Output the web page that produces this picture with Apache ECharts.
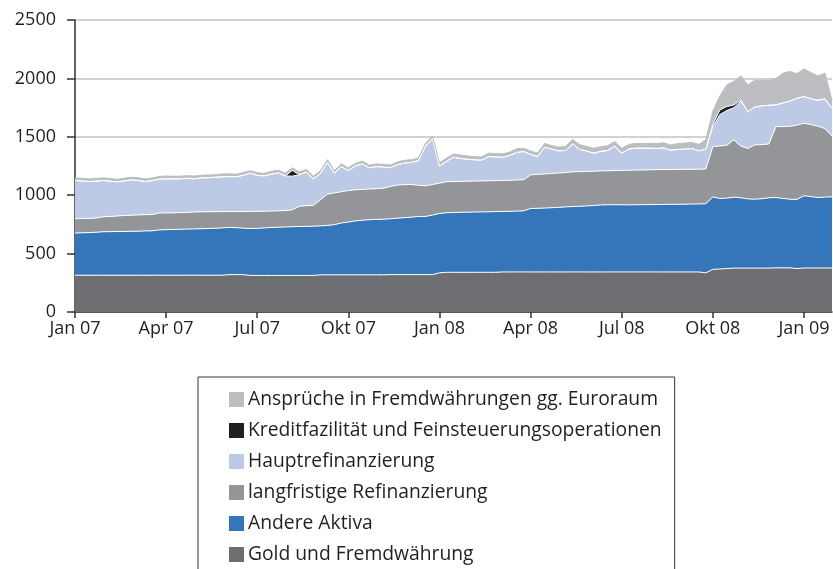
<!DOCTYPE html>
<html>
<head>
<meta charset="utf-8">
<script src="https://cdn.jsdelivr.net/npm/echarts@6/dist/echarts.min.js"></script>
<style>
  html, body { margin: 0; padding: 0; background: #fff; }
  #chart { width: 833px; height: 569px; }
</style>
</head>
<body>
<div id="chart"></div>
<script>
// weekly statements, first one 5 Jan 2007
var weeks = [];
var d0 = new Date(2007, 0, 5);
for (var w = 0; w < 109; w++) {
    var d = new Date(d0.getTime() + w * 7 * 86400000);
    weeks.push(d.getFullYear() + '-' + (d.getMonth() + 1) + '-' + d.getDate());
}
var tickLabels = ['Jan 07', 'Apr 07', 'Jul 07', 'Okt 07', 'Jan 08', 'Apr 08', 'Jul 08', 'Okt 08', 'Jan 09'];

var names = [
    'Gold und Fremdwährung',
    'Andere Aktiva',
    'langfristige Refinanzierung',
    'Hauptrefinanzierung',
    'Kreditfazilität und Feinsteuerungsoperationen',
    'Ansprüche in Fremdwährungen gg. Euroraum'
];

var gold = [315,315,315,315,315,315,315,315,315,315, 315,315,315,315,315,315,315,315,315,315,
    315,315,320,320,320,313,313,313,313,313, 313,313,313,313,313,318,318,318,318,318,
    318,318,318,318,318,320,320,320,320,320, 320,320,335,340,340,340,340,340,340,340,
    340,343,343,343,343,343,343,343,343,343, 343,343,343,343,343,343,343,343,343,343,
    343,343,343,343,343,343,343,343,343,343, 335,365,368,372,376,376,376,376,376,376,
    378,378,378,372,377,377,377,377,377];
var andere = [361,363,365,368,372,373,374,375,376,377, 379,380,388,390,392,393,395,396,398,400,
    402,405,404,402,398,402,403,407,411,413, 415,417,419,420,422,419,423,430,444,452,
    462,468,472,475,477,478,483,488,492,498, 498,510,508,510,512,514,515,516,517,518,
    520,518,519,521,523,543,545,547,550,553, 557,560,562,565,569,573,575,575,575,574,
    575,576,577,577,578,579,579,580,581,582, 592,620,604,603,607,602,592,590,594,602,
    602,594,588,592,618,611,603,607,609];
var langfristig = [122,122,122,121,128,130,133,136,138,139, 139,140,144,143,142,143,143,145,145,143,
    142,140,136,138,142,146,146,143,140,140, 140,145,173,177,177,223,267,272,268,270,
    266,264,263,263,265,277,284,282,280,267, 262,262,260,265,265,264,265,265,265,265,
    265,266,266,266,266,288,290,292,293,294, 294,297,297,296,294,292,291,293,294,297,
    297,297,298,299,299,298,299,299,298,298, 298,431,450,453,491,442,432,465,463,461,
    607,615,624,636,621,617,610,586,520];
var haupt = [328,322,315,316,311,302,292,296,302,295, 284,290,291,292,291,289,292,284,290,292,
    295,297,300,298,310,327,308,302,316,326, 297,288,270,288,228,225,272,169,215,171,
    204,218,182,189,180,161,175,185,190,210, 340,393,147,175,208,197,188,182,178,208,
    203,198,212,230,242,176,153,229,209,190, 189,240,190,174,154,167,174,209,148,181,
    188,187,185,181,185,165,171,172,178,157, 169,170,268,297,275,385,315,324,332,331,
    186,203,215,230,229,220,220,255,239];
var kredit = [0,0,0,0,0,0,0,0,0,0, 0,0,0,0,0,0,0,0,0,0,
    0,0,0,0,0,0,0,0,0,0, 0,50,0,0,0,0,0,0,0,0,
    0,0,0,0,0,0,0,0,0,0, 0,0,0,0,0,0,0,0,0,0,
    0,0,0,8,0,0,0,0,0,0, 0,0,0,0,0,0,0,0,0,0,
    0,0,0,0,0,0,0,0,0,0, 0,20,40,35,23,10,0,0,0,0,
    0,0,0,0,0,0,5,0,0];
var ansprueche = [22,24,22,23,22,24,22,23,22,24, 22,23,22,24,22,23,22,24,22,23,
    22,24,23,22,24,22,23,22,24,22, 23,22,24,22,23,22,24,22,23,24,
    22,24,22,23,24,22,23,24,22,24, 24,22,28,27,28,29,28,27,28,29,
    28,29,28,30,28,29,30,32,30,32, 34,38,40,40,42,40,41,40,42,40,
    41,40,42,42,44,45,50,52,52,55, 80,115,120,185,203,206,229,232,220,210,
    227,255,254,210,236,225,206,220,70];

var colors = ['#6d6e71', '#3576ba', '#939598', '#bdcae6', '#231f20', '#bcbdc0'];
var values = [gold, andere, langfristig, haupt, kredit, ansprueche];
var font = 'Open Sans';

var series = values.map(function (v, i) {
    return {
        name: names[i],
        type: 'line',
        stack: 'aktiva',
        data: v,
        symbol: 'none',
        lineStyle: { color: i === 5 ? colors[5] : '#ffffff', width: 1 },
        areaStyle: { color: colors[i], opacity: 1 },
        itemStyle: { color: colors[i] }
    };
});

var isQuarter = function (index) { return index % 13 === 0; };

var option = {
    animation: false,
    color: colors,
    grid: { left: 75, right: 1, top: 20, bottom: 257 },
    legend: {
        orient: 'vertical',
        left: 198,
        top: 377,
        height: 400,
        data: names.slice().reverse(),
        icon: 'rect',
        itemWidth: 15,
        itemHeight: 15,
        itemGap: 12,
        padding: [13, 13, 20, 31],
        borderColor: '#333',
        borderWidth: 1,
        textStyle: { fontFamily: font, fontSize: 19.3, color: '#231f20', padding: [0, 0, 0, -1] }
    },
    xAxis: {
        type: 'category',
        data: weeks,
        boundaryGap: false,
        axisLine: { lineStyle: { color: '#333', width: 1.5 } },
        axisTick: { interval: isQuarter, length: 6, lineStyle: { color: '#333', width: 1.5 } },
        axisLabel: {
            interval: isQuarter,
            margin: 8,
            fontFamily: font,
            fontSize: 18,
            color: '#231f20',
            formatter: function (val, index) { return tickLabels[index / 13]; }
        },
        splitLine: { show: false }
    },
    yAxis: {
        type: 'value',
        min: 0,
        max: 2500,
        interval: 500,
        axisLine: { show: true, lineStyle: { color: '#333', width: 1.5 } },
        axisTick: { show: true, length: 8, lineStyle: { color: '#333', width: 1.5 } },
        axisLabel: {
            margin: 19,
            fontFamily: font,
            fontSize: 18,
            color: '#231f20',
            formatter: function (v) { return String(v); }
        },
        splitLine: { lineStyle: { color: '#c2c2ca', width: 1.5 } }
    },
    series: series
};

var myChart = echarts.init(document.getElementById('chart'));
myChart.setOption(option);
</script>
</body>
</html>
